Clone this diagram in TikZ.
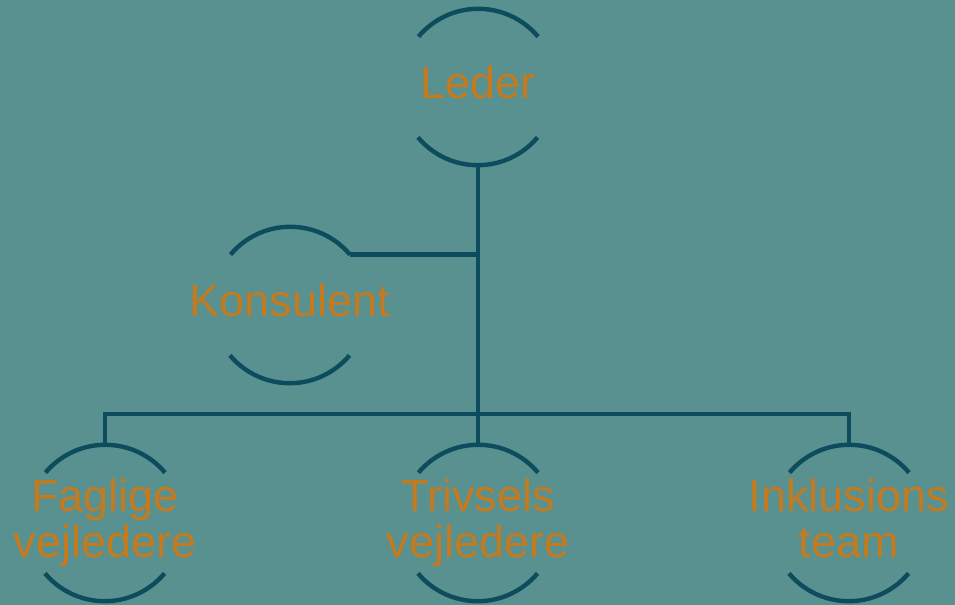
\documentclass[tikz,border=0pt]{standalone}
\usepackage{fontspec}
\setmainfont{Liberation Sans}
\usepackage{tikz}
\usetikzlibrary{positioning}

\definecolor{baggrund}{RGB}{89,145,144}
\definecolor{stregfarve}{RGB}{13,76,92}
\definecolor{tekstorange}{RGB}{196,122,30}

\tikzset{
  navn/.style={text=tekstorange, font=\fontsize{25.6}{26.5}\selectfont, align=center,
    inner sep=0pt, execute at end node=\vphantom{j}},
  enhed/.style={circle, minimum size=3.12cm, inner sep=0pt, label={[navn]center:#1}},
  streg/.style={draw=stregfarve, line width=2.5pt}
}

\begin{document}
\begin{tikzpicture}
    \fill[baggrund] (0,0) rectangle (19.1,-12.1);
    \useasboundingbox (0,0) rectangle (19.1,-12.1);

    \node[enhed=Leder] (L) at (9.56,-1.74) {};
    \node[enhed=Konsulent] (K) at (5.8,-6.1) {};
    \node[enhed={Faglige\\vejledere}] (F) at (2.1,-10.46) {};
    \node[enhed={Trivsels\\vejledere}] (T) at (9.56,-10.46) {};
    \node[enhed={Inklusions\\team}] (I) at (16.98,-10.46) {};
    \coordinate (bus) at (9.56,-8.28);

    % halve ringe
    \foreach \n in {L,K,F,T,I} {
      \draw[streg] (\n.40) arc (40:140:1.56cm);
      \draw[streg] (\n.220) arc (220:320:1.56cm);
    }

    % forbindelser
    \draw[streg] (L.south) -- (T.north);
    \draw[streg] (K.40) -- (K.40 -| L.south);
    \draw[streg] (F.north) -- (F.north |- bus) -- (I.north |- bus) -- (I.north);
\end{tikzpicture}
\end{document}
